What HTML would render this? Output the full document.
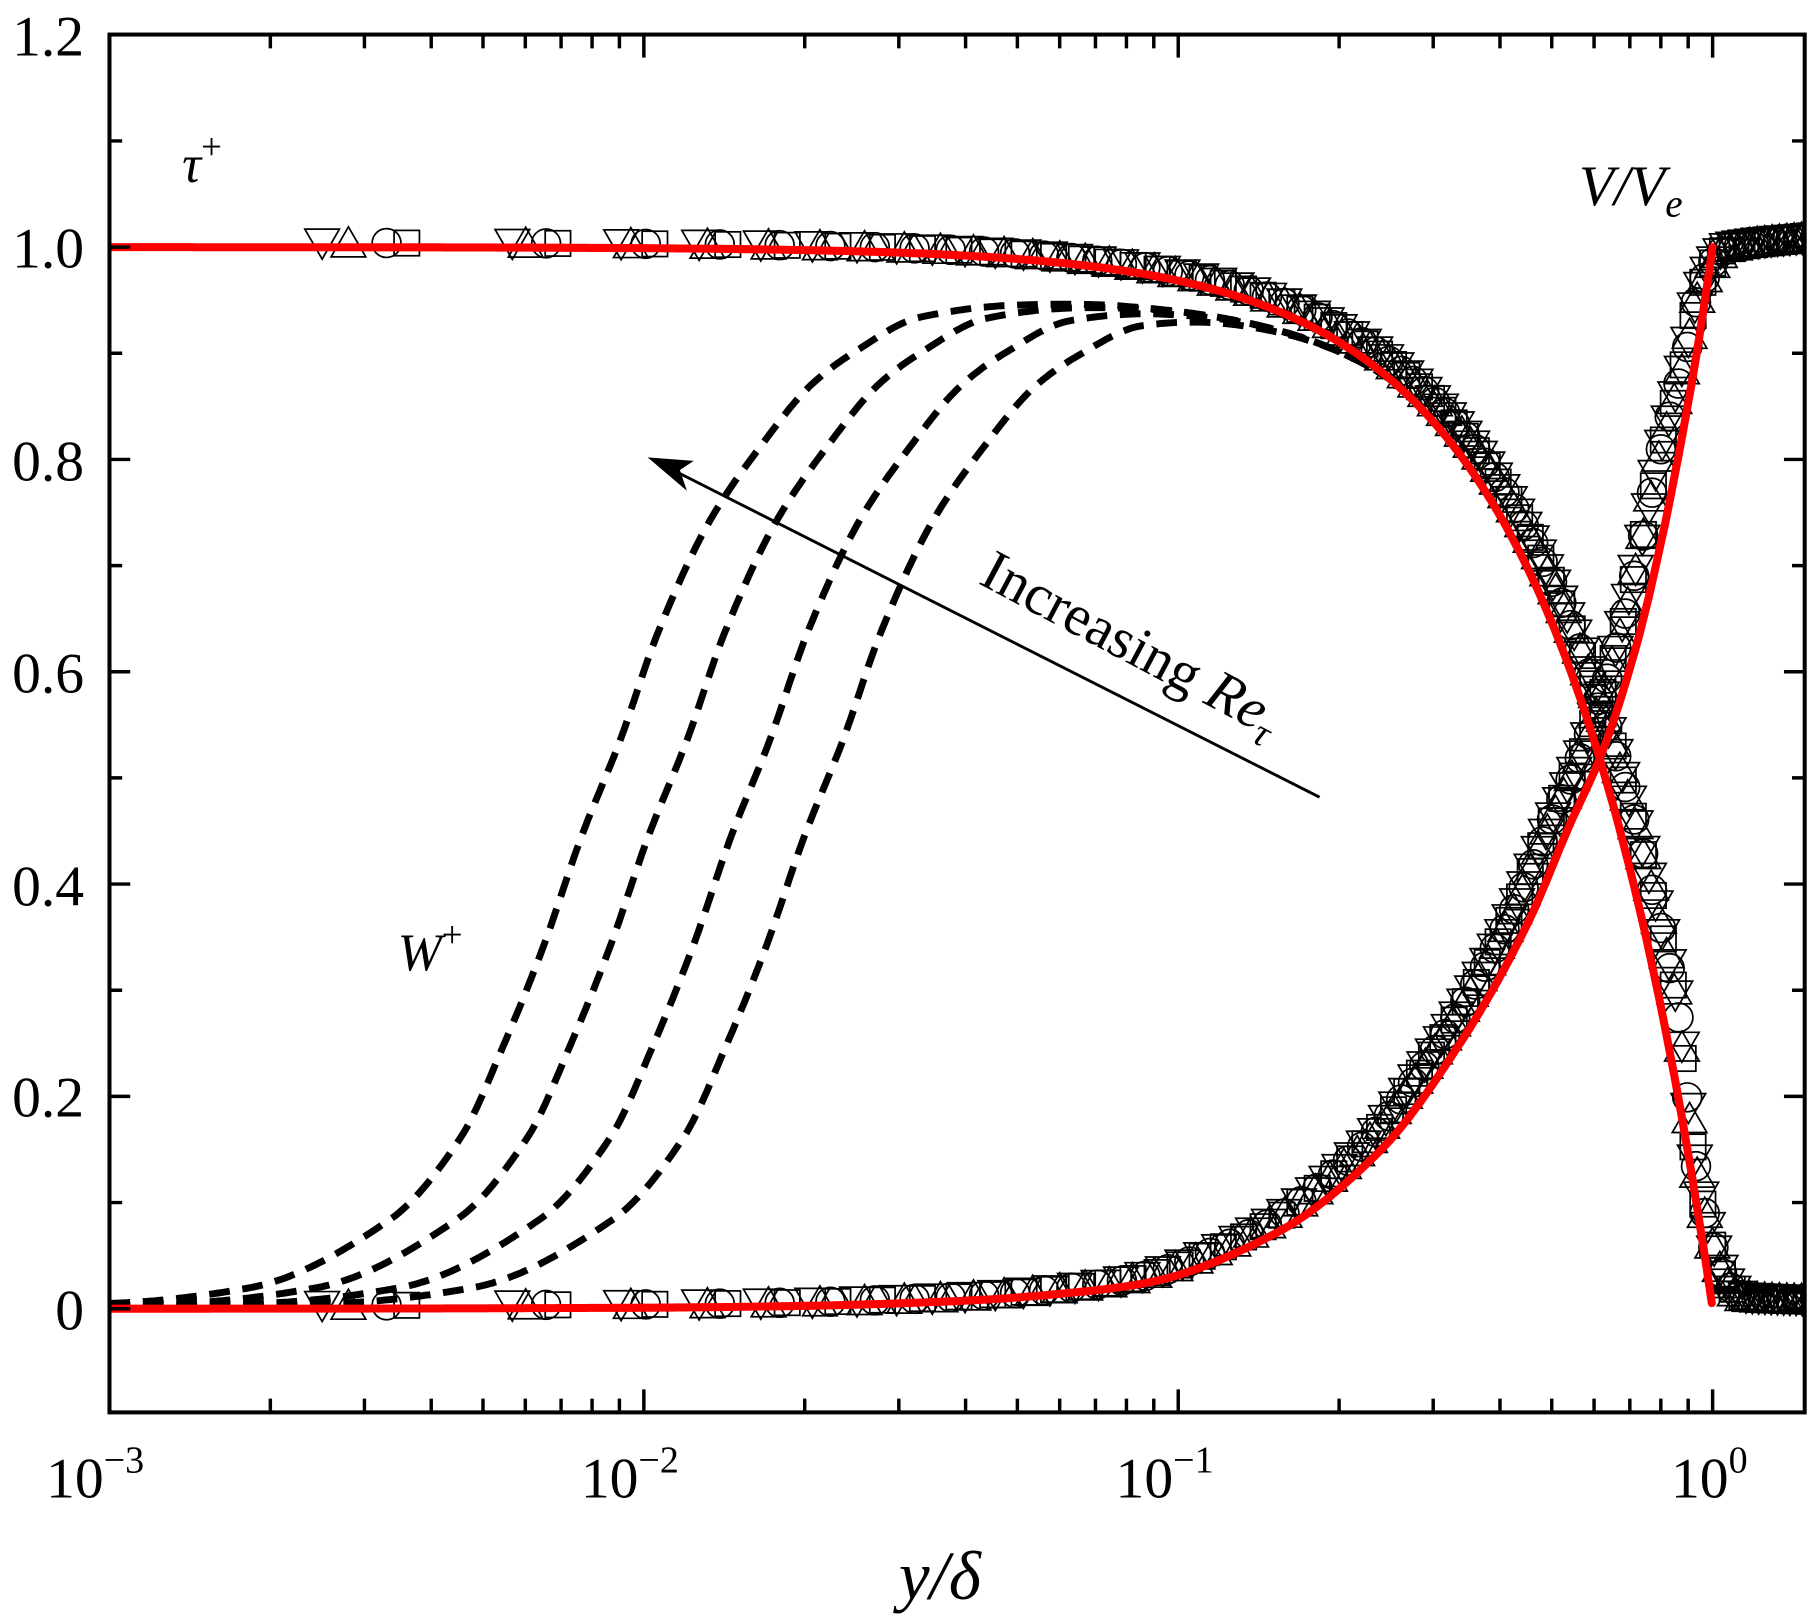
<!DOCTYPE html>
<html><head><meta charset="utf-8"><style>
html,body{margin:0;padding:0;background:#fff}
svg{display:block}
</style></head><body>
<svg id="s" width="1807" height="1614" viewBox="0 0 1568 1401" preserveAspectRatio="none" xmlns="http://www.w3.org/2000/svg" font-family="'Liberation Serif', 'Times New Roman', serif">
<defs><clipPath id="cp"><rect x="95" y="30" width="1471" height="1196"/></clipPath></defs>
<rect x="0" y="0" width="1568" height="1401" fill="#fff"/>
<g id="marks" clip-path="url(#cp)" fill="none" stroke="#000" stroke-width="1.5"></g>
<g id="dash" clip-path="url(#cp)" fill="none" stroke="#000" stroke-width="6" stroke-dasharray="18 11"></g>
<g id="red" clip-path="url(#cp)" fill="none" stroke="#f00" stroke-width="7" stroke-linecap="round"></g>
<g id="ticks" stroke="#000" stroke-width="3"></g>
<rect x="95" y="30" width="1471" height="1196" fill="none" stroke="#000" stroke-width="3.5"/>
<g font-size="50" text-anchor="end" font-family="'Liberation Serif', serif">
<text x="73" y="48">1.2</text>
<text x="73" y="232">1.0</text>
<text x="73" y="417">0.8</text>
<text x="73" y="601">0.6</text>
<text x="73" y="786">0.4</text>
<text x="73" y="969">0.2</text>
<text x="73" y="1154">0</text>
</g>
<g font-size="50" font-family="'Liberation Serif', serif">
<text x="40" y="1300">10<tspan font-size="33" dy="-22">−3</tspan></text>
<text x="504" y="1300">10<tspan font-size="33" dy="-22">−2</tspan></text>
<text x="968" y="1300">10<tspan font-size="33" dy="-22">−1</tspan></text>
<text x="1450" y="1300">10<tspan font-size="33" dy="-22">0</tspan></text>
</g>
<g font-family="'Liberation Serif', serif">
<text x="780" y="1388" font-size="60" font-style="italic">y/δ</text>
<text x="158" y="158" font-size="46" font-style="italic">τ<tspan font-style="normal" font-size="32" dy="-20">+</tspan></text>
<text x="345" y="842" font-size="46" font-style="italic">W<tspan font-style="normal" font-size="32" dy="-20">+</tspan></text>
<text x="1370" y="178" font-size="50" font-style="italic">V/V<tspan font-size="34" dy="10">e</tspan></text>
<text transform="translate(848,506) rotate(28)" font-size="50">Increasing <tspan font-style="italic">Re</tspan><tspan font-style="italic" font-size="34" dy="10">τ</tspan></text>
</g>
<line x1="1145" y1="692" x2="580" y2="406" stroke="#000" stroke-width="2.5"/>
<path d="M562,397 L602,400 L590,408 L596,426 Z" fill="#000"/>
</svg>
<script>
(function(){
var NS="http://www.w3.org/2000/svg";
function X(L){return 95+463.7*(L+3);}
function Y(v){return 1136-921.5*v;}
function mono(t){var n=t.length,xs=t.map(function(p){return p[0]}),ys=t.map(function(p){return p[1]}),d=[],m=[];
 for(var i=0;i<n-1;i++)d.push((ys[i+1]-ys[i])/(xs[i+1]-xs[i]));
 m[0]=d[0];m[n-1]=d[n-2];
 for(i=1;i<n-1;i++){if(d[i-1]*d[i]<=0)m[i]=0;else m[i]=2/(1/d[i-1]+1/d[i]);}
 return function(x){if(x<=xs[0])return ys[0];if(x>=xs[n-1])return ys[n-1];
  var k=0;while(x>xs[k+1])k++;var h=xs[k+1]-xs[k],s=(x-xs[k])/h,s2=s*s,s3=s2*s;
  return (2*s3-3*s2+1)*ys[k]+(s3-2*s2+s)*h*m[k]+(-2*s3+3*s2)*ys[k+1]+(s3-s2)*h*m[k+1];};}
function tau(e){return e>=1?0:1-Math.pow(e,1.5);}
var Vt=[[-3,0]];
[-2.5,-2,-1.7,-1.4,-1.2].forEach(function(L){Vt.push([L,Math.pow(Math.pow(10,L),1.5)*0.95]);});
Vt=Vt.concat([[-1.053,0.025],[-0.818,0.071],[-0.622,0.149],[-0.465,0.256],[-0.347,0.362],[-0.269,0.454],[-0.206,0.525],[-0.143,0.624],[-0.096,0.723],[-0.057,0.822],[-0.025,0.915],[0,1]]);
var V=mono(Vt);
function add(g,tag,attrs){var e=document.createElementNS(NS,tag);for(var k in attrs)e.setAttribute(k,attrs[k]);document.getElementById(g).appendChild(e);return e;}
function path(fn,L0,L1,n){var d="";for(var i=0;i<=n;i++){var L=L0+(L1-L0)*i/n;d+=(i?"L":"M")+X(L).toFixed(1)+","+Y(fn(L)).toFixed(1);}return d;}
var gt=[[-3.5,0.0005],[-3.0,0.005],[-2.737,0.0198],[-2.475,0.084],[-2.343,0.161],[-2.26,0.251],[-2.188,0.341],[-2.117,0.444],[-2.045,0.534],[-1.973,0.637],[-1.878,0.74],[-1.782,0.811],[-1.687,0.869],[-1.603,0.901],[-1.484,0.933],[-1.305,0.946],[-1.1,0.95],[-0.5,0.95]];
var gi=mono(gt);
function g(L){return Math.min(1,gi(L)/0.95);}
function T(e){return e>=1?0:(1-Math.pow(e,1.5))*(0.95+0.05*Math.min(1,e/0.25));}
[0,0.125,0.28,0.417].forEach(function(d){
 add("dash","path",{d:path(function(L){var e=Math.pow(10,L);return Math.max(g(L-d)*T(e),e>0.9?0.017:0);},-3,0.18,600)});
});
var S=-0.03;
var Tdt=mono([[-0.1,tau(Math.pow(10,-0.1+S))+0.004],[-0.07,tau(Math.pow(10,-0.07+S))+0.004],[-0.033,0.14],[0,0.06],[0.03,0.022],[0.06,0.011],[0.2,0.008]]);
function taud(L){if(L<-0.07)return tau(Math.pow(10,L+S))+0.004;return Tdt(L);}
var Vdt=mono([[-0.1,V(-0.065)+0.003],[-0.05,0.9],[-0.03,0.95],[0,0.985],[0.03,1.0],[0.2,1.01]]);
function Vd(L){if(L<-0.1)return V(L+0.035)+0.003;return Vdt(L);}
var types=["dt","ut","c","s"],starts=[0.0025,0.0028,0.0033,0.0036];
function mark(t,x,y){
 if(t=="dt")add("marks","path",{d:"M"+(x-15)+","+(y-12)+"h30l-15,26z"});
 else if(t=="ut")add("marks","path",{d:"M"+(x-15)+","+(y+12)+"h30l-15,-26z"});
 else if(t=="c")add("marks","circle",{cx:x,cy:y,r:12.5});
 else add("marks","rect",{x:x-11,y:y-11,width:22,height:22});
}
for(var k=0;k<4;k++){
 var e=starts[k];
 while(e<1.6){var L=Math.log10(e);var x=X(L);
  mark(types[k],x,Y(taud(L)));mark(types[k],x,Y(Vd(L)));
  e=e*(1.07+0.005*k-0.045*Math.min(1,e/0.3))+0.003;}
}
add("red","path",{d:path(function(L){return tau(Math.pow(10,L));},-3,-0.0015,600)});
add("red","path",{d:path(V,-3,0,600)});
var t="";
for(var i=0;i<=12;i++){var y=Y(i*0.1);var len=(i%2==0)?18:11;t+="M95,"+y+"h"+len+"M1566,"+y+"h-"+len;}
for(var dcd=-3;dcd<=0;dcd++){for(var m=1;m<=9;m++){var v=Math.pow(10,dcd)*m;if(v>1.486)break;var x=X(Math.log10(v));var len=m==1?20:12;t+="M"+x+",1226v-"+len+"M"+x+",30v"+len;}}
add("ticks","path",{d:t});
})();
</script>
</body></html>
